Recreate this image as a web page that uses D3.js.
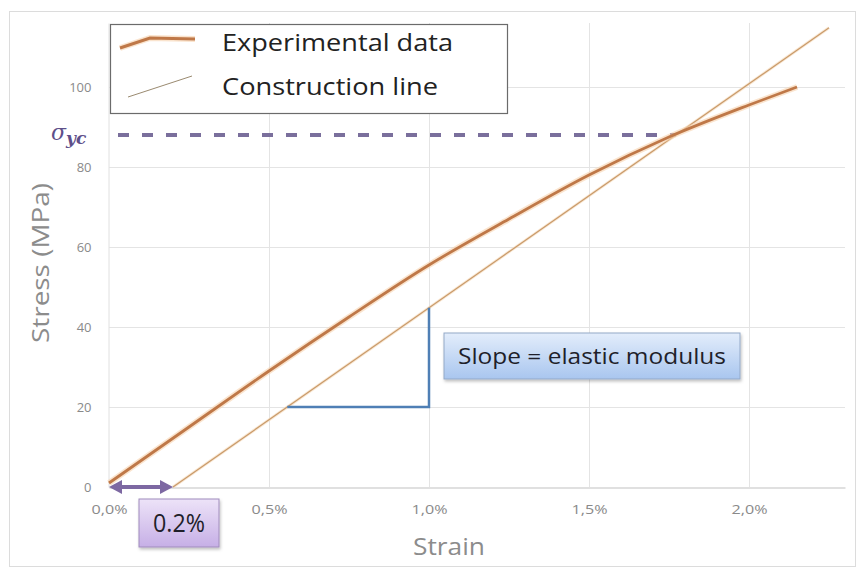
<!DOCTYPE html>
<html>
<head>
<meta charset="utf-8">
<script src="https://cdn.jsdelivr.net/npm/d3@7"></script>
<style>
  html, body { margin: 0; padding: 0; background: #fff; }
  svg { display: block; }
</style>
</head>
<body>
<svg id="chart" width="866" height="570"></svg>
<script>
// Experimental stress-strain curve (strain in %, stress in MPa)
const expStrain = [0, 0.25, 0.5, 0.75, 1.0, 1.25, 1.5, 1.75, 2.0, 2.15];
const expStress = [1, 15, 29, 42.5, 55.5, 67, 78, 87.5, 95.5, 100];

// 0.2% offset construction line, parallel to the elastic part
const offsetStrain = 0.2;
const modulus = 56;          // MPa per % strain
const constructionEnd = 2.25; // strain where the line stops
const yieldStress = 88;       // sigma_yc, where the two lines cross

const xTicks = [0, 0.5, 1.0, 1.5, 2.0];
const xTickLabels = ["0,0%", "0,5%", "1,0%", "1,5%", "2,0%"];
const yTicks = [0, 20, 40, 60, 80, 100];

// slope triangle: from stress 20 on the construction line to strain 1.0
const triStress = 20;
const triStrain = 1.0;

const svg = d3.select("#chart");
const font = "'Open Sans', Lato, sans-serif";

const x = d3.scaleLinear().domain([0, 2.3]).range([109, 845]);
const y = d3.scaleLinear().domain([0, 116]).range([487, 23]);

// outer frame
svg.append("rect").attr("x", 9.5).attr("y", 11.5).attr("width", 846).attr("height", 555)
  .attr("fill", "#fff").attr("stroke", "#dcdcdc").attr("stroke-width", 1);

// gridlines
const grid = svg.append("g");
grid.selectAll(".hg").data(yTicks.filter(d => d > 0)).join("line")
  .attr("x1", x(0)).attr("x2", x(2.3))
  .attr("y1", d => Math.round(y(d)) + 0.5).attr("y2", d => Math.round(y(d)) + 0.5)
  .attr("stroke", "#e4e4e4").attr("stroke-width", 1);
grid.selectAll(".vg").data(xTicks.filter(d => d > 0)).join("line")
  .attr("y1", y(0)).attr("y2", y(116))
  .attr("x1", d => Math.round(x(d)) + 0.5).attr("x2", d => Math.round(x(d)) + 0.5)
  .attr("stroke", "#e4e4e4").attr("stroke-width", 1);

// axes
const xAxis = d3.axisBottom(x).tickValues(xTicks)
  .tickFormat((d, i) => xTickLabels[i]).tickSize(0).tickPadding(17);
const gx = svg.append("g").attr("transform", `translate(0,${Math.round(y(0)) + 0.5})`).call(xAxis);
gx.select(".domain").attr("stroke", "#d6d6d6").attr("stroke-width", 1.5);
gx.selectAll("text").attr("font-family", font).attr("font-size", 13).attr("fill", "#8a8a8a")
  .attr("textLength", 36).attr("lengthAdjust", "spacingAndGlyphs");

const yAxis = d3.axisLeft(y).tickValues(yTicks).tickSize(0).tickPadding(17);
const gy = svg.append("g").attr("transform", `translate(${Math.round(x(0)) - 0.5},0)`).call(yAxis);
gy.select(".domain").attr("stroke", "#e0e0e0").attr("stroke-width", 1);
gy.selectAll("text").attr("font-family", font).attr("font-size", 13).attr("fill", "#8a8a8a");

// axis titles
svg.append("text").attr("x", 449).attr("y", 555).attr("text-anchor", "middle")
  .attr("font-family", font).attr("font-size", 23).attr("fill", "#8c8c8c")
  .attr("textLength", 72).attr("lengthAdjust", "spacingAndGlyphs").text("Strain");
svg.append("text").attr("transform", "translate(49,263) rotate(-90)").attr("text-anchor", "middle")
  .attr("font-family", font).attr("font-size", 23).attr("fill", "#8c8c8c")
  .attr("textLength", 160).attr("lengthAdjust", "spacingAndGlyphs").text("Stress (MPa)");

// yield stress dashed line
svg.append("line").attr("x1", 118).attr("x2", x((yieldStress / modulus) + offsetStrain))
  .attr("y1", y(yieldStress)).attr("y2", y(yieldStress))
  .attr("stroke", "#7a6f9c").attr("stroke-width", 4).attr("stroke-dasharray", "11,13");

// construction line
const constructionData = [[offsetStrain, 0], [constructionEnd, (constructionEnd - offsetStrain) * modulus]];
const line = d3.line().x(d => x(d[0])).y(d => y(d[1]));
svg.append("path").datum(constructionData).attr("d", line)
  .attr("fill", "none").attr("stroke", "#f5d8b8").attr("stroke-width", 3).attr("opacity", 0.6);
svg.append("path").datum(constructionData).attr("d", line)
  .attr("fill", "none").attr("stroke", "#c99a6a").attr("stroke-width", 1.2);

// experimental curve
const expData = expStrain.map((s, i) => [s, expStress[i]]);
const curve = d3.line().x(d => x(d[0])).y(d => y(d[1])).curve(d3.curveMonotoneX);
svg.append("path").datum(expData).attr("d", curve)
  .attr("fill", "none").attr("stroke", "#f7d2ae").attr("stroke-width", 6).attr("opacity", 0.6);
svg.append("path").datum(expData).attr("d", curve)
  .attr("fill", "none").attr("stroke", "#bf7848").attr("stroke-width", 2.8);

// slope triangle
const triStart = offsetStrain + triStress / modulus;
svg.append("path")
  .datum([[triStart, triStress], [triStrain, triStress], [triStrain, (triStrain - offsetStrain) * modulus]])
  .attr("d", d3.line().x(d => x(d[0])).y(d => y(d[1])))
  .attr("fill", "none").attr("stroke", "#4f7fb5").attr("stroke-width", 2.5);

// callout boxes
const defs = svg.append("defs");
const gBlue = defs.append("linearGradient").attr("id", "gBlue").attr("x1", 0).attr("x2", 0).attr("y1", 0).attr("y2", 1);
gBlue.append("stop").attr("offset", "0%").attr("stop-color", "#e3edfb");
gBlue.append("stop").attr("offset", "100%").attr("stop-color", "#a9c6ef");
const gPurple = defs.append("linearGradient").attr("id", "gPurple").attr("x1", 0).attr("x2", 0).attr("y1", 0).attr("y2", 1);
gPurple.append("stop").attr("offset", "0%").attr("stop-color", "#ede3f8");
gPurple.append("stop").attr("offset", "100%").attr("stop-color", "#c6afe6");
const shadow = defs.append("filter").attr("id", "sh").attr("x", "-10%").attr("y", "-10%").attr("width", "130%").attr("height", "140%");
shadow.append("feDropShadow").attr("dx", 1).attr("dy", 2).attr("stdDeviation", 1.5).attr("flood-color", "#000").attr("flood-opacity", 0.25);

svg.append("rect").attr("x", 444).attr("y", 333).attr("width", 296).attr("height", 46)
  .attr("fill", "url(#gBlue)").attr("stroke", "#93a9c8").attr("stroke-width", 1).attr("filter", "url(#sh)");
svg.append("text").attr("x", 592).attr("y", 364).attr("text-anchor", "middle")
  .attr("font-family", font).attr("font-size", 21).attr("fill", "#1f1f2a")
  .attr("textLength", 268).attr("lengthAdjust", "spacingAndGlyphs").text("Slope = elastic modulus");

svg.append("rect").attr("x", 139).attr("y", 499).attr("width", 80).attr("height", 48)
  .attr("fill", "url(#gPurple)").attr("stroke", "#a08cbd").attr("stroke-width", 1).attr("filter", "url(#sh)");
svg.append("text").attr("x", 179).attr("y", 532).attr("text-anchor", "middle")
  .attr("font-family", font).attr("font-size", 25).attr("fill", "#1f1f2a")
  .attr("textLength", 52).attr("lengthAdjust", "spacingAndGlyphs").text("0.2%");

// 0.2% offset double arrow
const ay = y(0);
const ax0 = x(0), ax1 = x(offsetStrain);
svg.append("line").attr("x1", ax0 + 8).attr("x2", ax1 - 8).attr("y1", ay).attr("y2", ay)
  .attr("stroke", "#7d68a2").attr("stroke-width", 4);
svg.append("path").attr("d", `M${ax0},${ay} L${ax0 + 13},${ay - 7} L${ax0 + 13},${ay + 7} Z`).attr("fill", "#7d68a2");
svg.append("path").attr("d", `M${ax1},${ay} L${ax1 - 13},${ay - 7} L${ax1 - 13},${ay + 7} Z`).attr("fill", "#7d68a2");

// sigma_yc label
const sig = svg.append("text").attr("x", 51).attr("y", 140)
  .attr("font-family", "'DejaVu Serif', 'Liberation Serif', serif").attr("font-style", "italic").attr("fill", "#5e4f8a");
sig.append("tspan").attr("font-size", 22).text("σ");
sig.append("tspan").attr("font-size", 17).attr("font-weight", "bold").attr("dy", 4).text("yc");

// legend
const lg = svg.append("g");
lg.append("rect").attr("x", 110.5).attr("y", 24.5).attr("width", 397).attr("height", 89)
  .attr("fill", "#fff").attr("stroke", "#6b6b6b").attr("stroke-width", 1.2);
lg.append("path").attr("d", "M120,48 L150,38 L195,39").attr("fill", "none")
  .attr("stroke", "#f7d2ae").attr("stroke-width", 6).attr("opacity", 0.6);
lg.append("path").attr("d", "M120,48 L150,38 L195,39").attr("fill", "none")
  .attr("stroke", "#bf7848").attr("stroke-width", 3);
lg.append("line").attr("x1", 128).attr("y1", 97).attr("x2", 192).attr("y2", 76)
  .attr("stroke", "#9a8a70").attr("stroke-width", 1);
lg.append("text").attr("x", 222).attr("y", 51).attr("font-family", font).attr("font-size", 23)
  .attr("fill", "#222").attr("textLength", 231).attr("lengthAdjust", "spacingAndGlyphs").text("Experimental data");
lg.append("text").attr("x", 222).attr("y", 95).attr("font-family", font).attr("font-size", 23)
  .attr("fill", "#222").attr("textLength", 216).attr("lengthAdjust", "spacingAndGlyphs").text("Construction line");
</script>
</body>
</html>
